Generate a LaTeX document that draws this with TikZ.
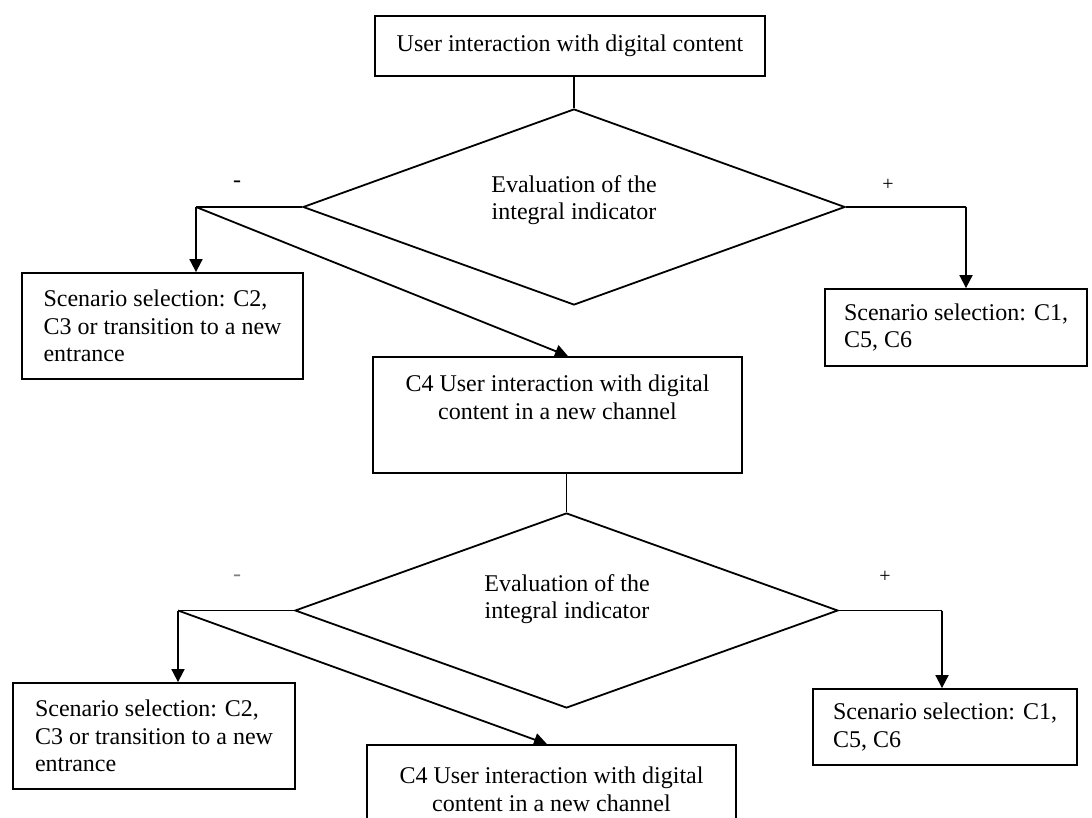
\documentclass[tikz,border=0pt]{standalone}
\usepackage{fontspec}
\setmainfont{Liberation Serif}
\usetikzlibrary{shapes.geometric,arrows.meta,calc}
\begin{document}
\begin{tikzpicture}[x=1pt,y=-1pt,
  every node/.style={font=\fontsize{24}{27.6}\selectfont},
  box/.style={draw,line width=1.8pt,rectangle,inner sep=0pt,align=left},
  dia/.style={draw,line width=1.8pt,diamond,inner sep=0pt},
  conn/.style={line width=1.8pt},
  arr/.style={conn,-{Triangle[length=13pt,width=13pt]}},
  txt/.style={align=center,inner sep=0pt},
  sign/.style={inner sep=0pt}
]
\clip (0,0) rectangle (1092,818);
\fill[white] (0,0) rectangle (1092,818);

% top
\node[box, align=center, minimum width=390pt, minimum height=60pt] (top) at (570,46) {User interaction with digital content};

% first decision
\node[dia, minimum width=542pt, minimum height=196pt] (d1) at (574,207) {};
\node[txt] (d1t) at (574,200) {Evaluation of the\\integral indicator};

\node[box, minimum width=281pt, minimum height=106pt] (lb1) at (162.5,326) {Scenario selection: C2,\\C3 or transition to a new\\entrance};
\node[box, minimum width=262pt, minimum height=77pt] (rb1) at (956,327.5) {Scenario selection: C1,\\C5, C6};

\node[box, minimum width=369pt, minimum height=116pt] (c4a) at (557.5,415) {};
\node[txt] (c4at) at (557.5,397) {C4 User interaction with digital\\content in a new channel};

% second decision
\node[dia, minimum width=543pt, minimum height=195pt] (d2) at (566.5,610.5) {};
\node[txt] (d2t) at (567,599) {Evaluation of the\\integral indicator};

\node[box, minimum width=282pt, minimum height=106pt] (lb2) at (154,736) {Scenario selection: C2,\\C3 or transition to a new\\entrance};
\node[box, minimum width=264pt, minimum height=76pt] (rb2) at (945,727) {Scenario selection: C1,\\C5, C6};

\node[box, minimum width=369pt, minimum height=116pt] (c4b) at (551.5,803) {};
\node[txt] (c4bt) at (551.5,789) {C4 User interaction with digital\\content in a new channel};

% signs
\node[sign] (m1) at (237,184) {-};
\node[sign, text=gray] (m2) at (237,578) {-};
\node[sign, font=\fontsize{20}{24}\selectfont] (p1) at (888,185) {+};
\node[sign, font=\fontsize{20}{24}\selectfont] (p2) at (885,577) {+};

% connectors
\draw[conn] (top.south -| d1.north) -- (d1.north);
\coordinate (jL1) at (196,207);
\draw[conn] (d1.west) -- (jL1);
\draw[arr] (jL1) -- (jL1 |- lb1.north);
\draw[arr] (jL1) -- ([xshift=10.5pt]c4a.north);
\coordinate (jR1) at (966,207);
\draw[conn] (d1.east) -- (jR1);
\draw[arr] (jR1) -- (jR1 |- rb1.north);

\draw[conn] (c4a.south -| d2.north) -- (d2.north);
\coordinate (jL2) at (178,610.5);
\draw[conn] (d2.west) -- (jL2);
\draw[arr] (jL2) -- (jL2 |- lb2.north);
\draw[arr] (jL2) -- ([xshift=-4.5pt]c4b.north);
\coordinate (jR2) at (942,610.5);
\draw[conn] (d2.east) -- (jR2);
\draw[arr] (jR2) -- (jR2 |- rb2.north);
\end{tikzpicture}
\end{document}
